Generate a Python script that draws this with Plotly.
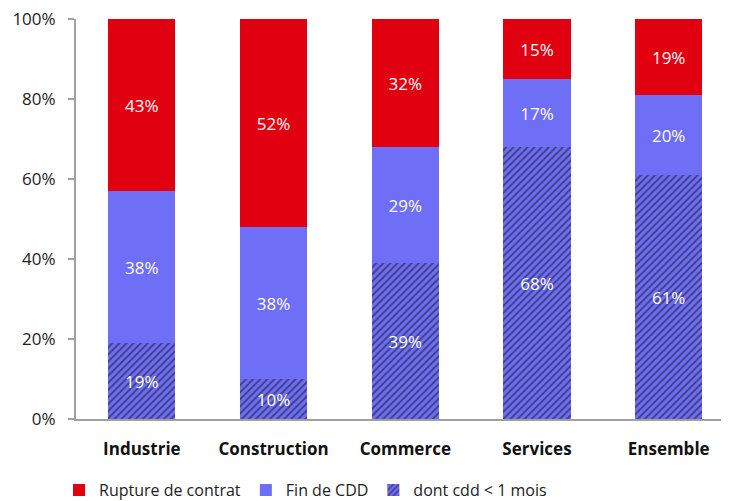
import plotly.graph_objects as go

categories = ["Industrie", "Construction", "Commerce", "Services", "Ensemble"]
cdd_court = [19, 10, 39, 68, 61]      # dont cdd < 1 mois
fin_cdd = [38, 38, 29, 17, 20]        # Fin de CDD (hors < 1 mois)
rupture = [43, 52, 32, 15, 19]        # Rupture de contrat
y_ticks = [0, 20, 40, 60, 80, 100]
y_tick_labels = ["0%", "20%", "40%", "60%", "80%", "100%"]

RED = "#E1000F"
BLUE = "#6E6EF7"
FONT = "Open Sans"
LABEL_FONT = dict(color="white", size=17, family=FONT)

fig = go.Figure()
fig.add_trace(go.Bar(
    x=categories, y=cdd_court, name="dont cdd < 1 mois",
    marker=dict(color=BLUE, line=dict(width=0),
                pattern=dict(shape="/", fgcolor="#111111", bgcolor=BLUE, size=5, solidity=0.4)),
    text=[f"{v}%" for v in cdd_court], textposition="inside", insidetextanchor="middle",
    textfont=LABEL_FONT, legendrank=3,
))
fig.add_trace(go.Bar(
    x=categories, y=fin_cdd, name="Fin de CDD",
    marker=dict(color=BLUE, line=dict(width=0)),
    text=[f"{v}%" for v in fin_cdd], textposition="inside", insidetextanchor="middle",
    textfont=LABEL_FONT, legendrank=2,
))
fig.add_trace(go.Bar(
    x=categories, y=rupture, name="Rupture de contrat",
    marker=dict(color=RED, line=dict(width=0)),
    text=[f"{v}%" for v in rupture], textposition="inside", insidetextanchor="middle",
    textfont=LABEL_FONT, legendrank=1,
))

fig.update_layout(
    barmode="stack",
    bargap=0.49,
    width=721, height=493,
    margin=dict(l=68, r=0, t=11, b=82, autoexpand=False),
    plot_bgcolor="white", paper_bgcolor="white",
    font=dict(family=FONT, color="#222222", size=16),
    uniformtext=dict(minsize=10, mode="show"),
    showlegend=True,
    legend=dict(orientation="h", x=-0.026, xanchor="left", y=-0.178, yanchor="middle",
                font=dict(size=16, family=FONT, color="#222222"),
                itemwidth=30, traceorder="normal", tracegroupgap=0),
)
fig.update_xaxes(
    range=[-0.5, 4.458], showline=True, linecolor="#A0A0A0", linewidth=2,
    ticks="", tickfont=dict(size=17, family=FONT, color="#111111", weight="bold"),
    ticklabelstandoff=14,
    showgrid=False, zeroline=False, automargin=False,
)
fig.update_yaxes(
    range=[0, 100], tickvals=y_ticks, ticktext=y_tick_labels,
    showline=True, linecolor="#A0A0A0", linewidth=2,
    ticks="outside", ticklen=6, tickcolor="#A0A0A0", tickwidth=2,
    ticklabelstandoff=9, ticklabeloverflow="allow",
    tickfont=dict(size=17, family=FONT, color="#222222"),
    showgrid=False, zeroline=False, automargin=False,
)

fig.write_html("out.html")
